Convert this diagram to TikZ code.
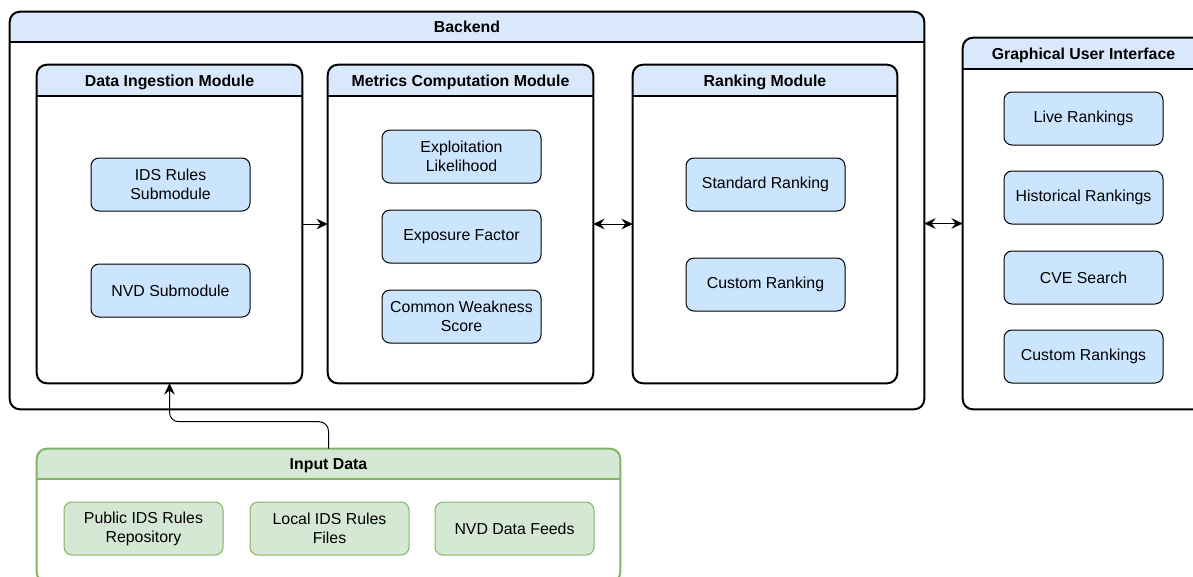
\documentclass[tikz,border=0pt]{standalone}
\usepackage{fontspec}
\setmainfont{Liberation Sans}
\usetikzlibrary{positioning, fit, calc, arrows.meta}
\definecolor{hdrblue}{HTML}{DAE8FC}
\definecolor{subblue}{HTML}{CCE5FF}
\definecolor{inpgreen}{HTML}{D5E8D4}
\definecolor{inpline}{HTML}{82B366}
\newcommand{\diafont}{\fontsize{11.9}{14.3}\selectfont}
\tikzset{%
  sub/.style = {rectangle,draw,rounded corners=6pt,line width=0.75pt,
        fill=subblue,minimum width=119.25pt,minimum height=39.75pt,
        align=center,inner sep=2pt},
  src/.style = {sub,draw=inpline,fill=inpgreen},
  head/.style = {font=\diafont\bfseries,inner sep=0pt,anchor=base},
  flow/.style = {-{Stealth[length=8.5pt,width=8pt,inset=3pt]},line width=0.75pt},
  biflow/.style = {{Stealth[length=8.5pt,width=8pt,inset=3pt]}-{Stealth[length=8.5pt,width=8pt,inset=3pt]},line width=0.75pt}
}
% container with a header band: name, corner, corner, header height, title, fill, line
\newcommand{\modframe}[7]{%
  \node[fit={#2 #3},inner sep=0pt] (#1) {};
  \begin{scope}
    \clip[rounded corners=7.5pt] (#1.north west) rectangle (#1.south east);
    \fill[#6] (#1.north west) rectangle ($(#1.north east)+(0,#4)$);
  \end{scope}
  \draw[#7,line width=1.5pt] ($(#1.north west)+(0,#4)$) -- ($(#1.north east)+(0,#4)$);
  \draw[#7,line width=1.5pt,rounded corners=7.5pt] (#1.north west) rectangle (#1.south east);
  \node[head] (#1-title) at ($(#1.north)+(0,#4/2+6)$) {#5};
}

\begin{document}
\begin{tikzpicture}[x=0.75pt,y=-0.75pt,font=\diafont]
        \useasboundingbox (0,0) rectangle (1193,576);
        \clip (0,0) rectangle (1193,576);
        % frames
        \modframe{backend}{(10,12)}{(924,409)}{30}{Backend}{hdrblue}{black}
        \modframe{dim}{(37,65)}{(302,383)}{31}{Data Ingestion Module}{hdrblue}{black}
        \modframe{mcm}{(328,65)}{(593,383)}{31}{Metrics Computation Module}{hdrblue}{black}
        \modframe{rank}{(633,65)}{(897,383)}{31}{Ranking Module}{hdrblue}{black}
        \modframe{gui}{(963,38)}{(1204,409)}{31}{Graphical User Interface}{hdrblue}{black}
        \modframe{input}{(37,449)}{(620,582)}{30}{Input Data}{inpgreen}{inpline}
        % submodules
        \node[sub] (ids) at (170.5,184.5) {IDS Rules\\Submodule};
        \node[sub] (nvd) at (170.5,290.5) {NVD Submodule};
        \node[sub] (expl) at (461.5,156.5) {Exploitation\\Likelihood};
        \node[sub] (expo) at (461.5,236.5) {Exposure Factor};
        \node[sub] (cws) at (461.5,316.5) {Common Weakness\\Score};
        \node[sub] (std) at (765.5,184.5) {Standard Ranking};
        \node[sub] (cust) at (765.5,284.5) {Custom Ranking};
        % GUI views
        \node[sub] (live) at (1083.5,118.5) {Live Rankings};
        \node[sub] (hist) at (1083.5,197.5) {Historical Rankings};
        \node[sub] (cve) at (1083.5,277.5) {CVE Search};
        \node[sub] (custr) at (1083.5,356.5) {Custom Rankings};
        % input sources
        \node[src] (pub) at (143.5,528.5) {Public IDS Rules\\Repository};
        \node[src] (loc) at (329.5,528.5) {Local IDS Rules\\Files};
        \node[src] (feeds) at (514.5,528.5) {NVD Data Feeds};
        % links
        \draw [flow] (dim.east) to (mcm.west);
        \draw [biflow] (mcm.east) to (rank.west);
        \draw [biflow] (gui.west -| backend.east) to (gui.west);
        \draw [flow,rounded corners=7pt] (input.north) -- ++(0,-27) -| (dim.south);
    \end{tikzpicture}
\end{document}
